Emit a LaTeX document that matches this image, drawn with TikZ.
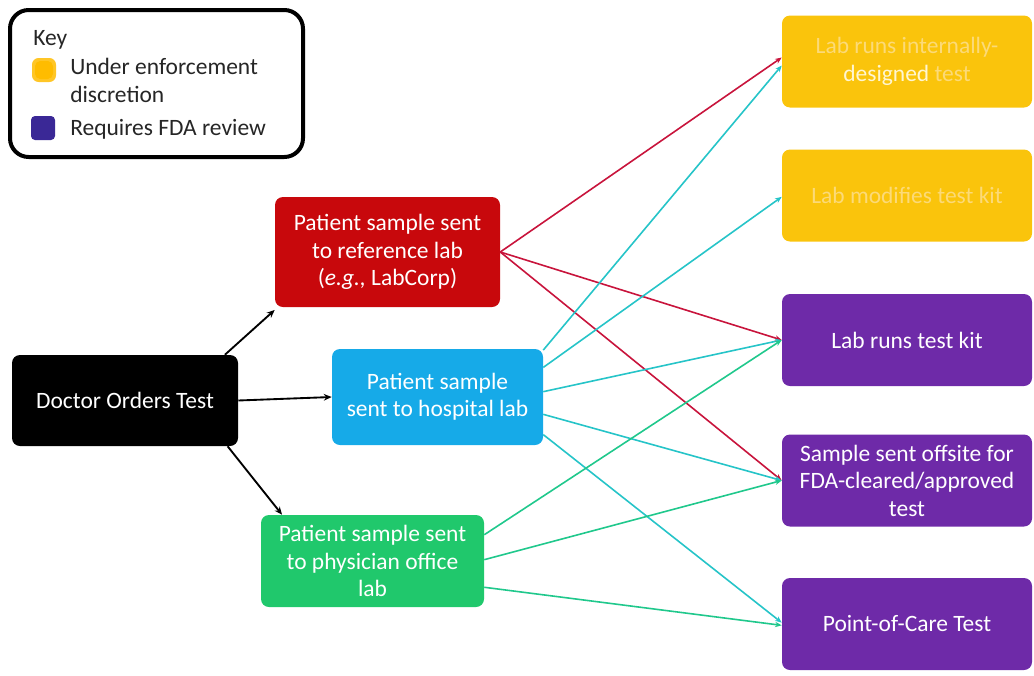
\documentclass[tikz,border=0pt]{standalone}
\usepackage{fontspec}
\setmainfont{Carlito}
\usetikzlibrary{arrows.meta,calc}
\definecolor{cred}{RGB}{200,8,12}
\definecolor{cblue}{RGB}{22,170,232}
\definecolor{cgreen}{RGB}{32,200,108}
\definecolor{cyel}{RGB}{250,196,12}
\definecolor{cpur}{RGB}{110,42,168}
\definecolor{lred}{RGB}{200,20,60}
\definecolor{lcyan}{RGB}{38,196,200}
\definecolor{lgreen}{RGB}{32,200,140}
\definecolor{keypur}{RGB}{58,40,150}
\definecolor{keyyel}{RGB}{255,188,0}
\definecolor{faint}{RGB}{252,218,120}
\definecolor{offw}{RGB}{255,246,210}
\begin{document}
\begin{tikzpicture}[x=0.75pt,y=-0.75pt,
  box/.style={rounded corners=6pt, align=center, text=white, inner sep=0pt,
    font=\fontsize{17.6}{20.6}\selectfont},
  blk/.style={-{Stealth[length=6pt,width=5pt]}, line width=1.4pt, black},
  lnk/.style={-{Stealth[length=5pt,width=4pt]}, line width=1.2pt},
  keytext/.style={anchor=west, inner sep=0pt, font=\fontsize{17.6}{21}\selectfont, text=black!85}]
\useasboundingbox (0,0) rectangle (1034,675);

% key
\node[draw=black, line width=3pt, rounded corners=14pt, fill=white,
  minimum width=219.75pt, minimum height=110.25pt] (key) at (156.5,83.5) {};
\node[keytext] (keyt) at (33,40) {Key};
\fill[keyyel!85!white, rounded corners=5pt] (32,58) rectangle (56,82);
\fill[keyyel, rounded corners=4pt] (35,61) rectangle (53,79);
\node[keytext] (k1) at (70,66) {Under enforcement};
\node[keytext] (k2) at (70,94) {discretion};
\fill[keypur, rounded corners=3pt] (31,116) rectangle (55,140);
\node[keytext] (k3) at (70,129) {Requires FDA review};

% left nodes
\node[box, fill=black, minimum width=169.5pt, minimum height=68.25pt] (doc) at (125,400.5) {Doctor Orders Test};
\node[box, fill=cred, minimum width=168.75pt, minimum height=82.5pt] (ref) at (387.5,252) {Patient sample sent\\to reference lab\\(\textit{e.g.,} LabCorp)};
\node[box, fill=cblue, minimum width=158.25pt, minimum height=72pt] (hosp) at (437.5,397) {Patient sample\\sent to hospital lab};
\node[box, fill=cgreen, minimum width=167.25pt, minimum height=69pt] (pol) at (372.5,561) {Patient sample sent\\to physician office\\lab};

% right nodes
\node[box, fill=cyel, minimum width=187.5pt, minimum height=69pt] (y1) at (907,61.5) {\textcolor{faint}{Lab runs internally-}\\\textcolor{offw}{designed} \textcolor{faint}{test}};
\node[box, fill=cyel, minimum width=187.5pt, minimum height=69pt] (y2) at (907,195.5) {\textcolor{faint}{Lab modifies test kit}};
\node[box, fill=cpur, minimum width=187.5pt, minimum height=69pt] (p1) at (907,340) {Lab runs test kit};
\node[box, fill=cpur, minimum width=187.5pt, minimum height=69pt] (p2) at (907,480.5) {Sample sent offsite for\\FDA-cleared/approved\\test};
\node[box, fill=cpur, minimum width=187.5pt, minimum height=69pt] (p3) at (907,624) {Point-of-Care Test};

% black arrows
\draw[blk] ([xshift=-10pt]doc.north east) -- ([yshift=-2pt]ref.south west);
\draw[blk] (doc.east) -- (hosp.west);
\draw[blk] ([xshift=-8pt]doc.south east) -- ([xshift=16pt]pol.north west);

% red links
\draw[lnk, lred] (ref.east) -- ([yshift=3pt]y1.west);
\draw[lnk, lred] (ref.east) -- (p1.west);
\draw[lnk, lred] (ref.east) -- (p2.west);

% cyan links
\draw[lnk, lcyan] ([yshift=-1pt]hosp.north east) -- ([yshift=-3pt]y1.west);
\draw[lnk, lcyan] ([yshift=-14pt]hosp.north east) -- ([yshift=-1pt]y2.west);
\draw[lnk, lcyan] ([yshift=4pt]hosp.east) -- (p1.west);
\draw[lnk, lcyan] ([yshift=-13pt]hosp.east) -- (p2.west);
\draw[lnk, lcyan] ([yshift=8pt]hosp.south east) -- ([yshift=1pt]p3.west);

% green links
\draw[lnk, lgreen] ([yshift=-15pt]pol.north east) -- (p1.west);
\draw[lnk, lgreen] ([yshift=1pt]pol.east) -- (p2.west);
\draw[lnk, lgreen] ([yshift=15pt]pol.south east) -- ([yshift=-1pt]p3.west);
\end{tikzpicture}
\end{document}
